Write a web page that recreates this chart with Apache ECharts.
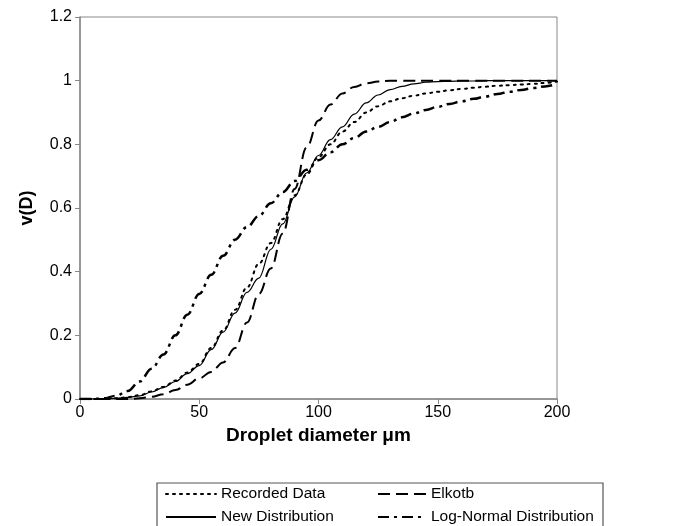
<!DOCTYPE html>
<html><head><meta charset="utf-8">
<script src="https://cdn.jsdelivr.net/npm/echarts@6/dist/echarts.min.js"></script>
<style>html,body{margin:0;padding:0;background:#fff}#c{width:680px;height:526px}</style>
</head><body><div id="c"></div>
<script>
const diameters = [0,5,10,15,20,25,30,35,40,45,50,55,60,65,70,75,80,85,90,95,100,105,110,115,120,125,130,135,140,145,150,155,160,165,170,175,180,185,190,195,200];
const recordedData = [0,0,0,0.002,0.006,0.012,0.024,0.038,0.058,0.083,0.11,0.16,0.215,0.28,0.35,0.425,0.49,0.565,0.64,0.705,0.76,0.8,0.84,0.87,0.9,0.92,0.935,0.945,0.953,0.96,0.965,0.97,0.974,0.978,0.981,0.984,0.986,0.988,0.99,0.993,0.997];
const newDistribution = [0,0,0,0.002,0.005,0.01,0.022,0.036,0.055,0.08,0.105,0.155,0.21,0.27,0.335,0.38,0.47,0.55,0.635,0.71,0.765,0.815,0.855,0.895,0.93,0.955,0.972,0.982,0.99,0.995,0.997,0.998,0.999,0.999,1,1,1,1,1,1,1];
const elkotb = [0,0,0,0,0,0.002,0.007,0.015,0.028,0.045,0.065,0.085,0.115,0.16,0.24,0.33,0.41,0.52,0.66,0.79,0.875,0.925,0.96,0.98,0.992,0.997,1,1,1,1,1,1,1,1,1,1,1,1,1,1,1];
const logNormal = [0,0,0.002,0.01,0.025,0.055,0.095,0.14,0.2,0.265,0.33,0.39,0.45,0.5,0.54,0.575,0.615,0.65,0.685,0.72,0.75,0.775,0.8,0.82,0.84,0.855,0.87,0.885,0.897,0.908,0.918,0.927,0.935,0.943,0.95,0.958,0.965,0.971,0.977,0.982,0.99];
const seriesNames = ['Recorded Data','New Distribution','Elkotb','Log-Normal Distribution'];
const xTicks = {min:0,max:200,interval:50};
const yTicks = {min:0,max:1.2,interval:0.2};

const pairs = arr => diameters.map((d,i)=>[d,arr[i]]);
const font = 'Liberation Sans, Arial, sans-serif';
const axisGray = '#888';

function mk(name, data, lineStyle){
  return {name, type:'line', data:pairs(data), symbol:'none', smooth:0.4, smoothMonotone:'x',
    lineStyle:Object.assign({color:'#000'}, lineStyle), itemStyle:{color:'#000'}, z:3};
}
const legendCommon = {orient:'vertical', top:486, padding:0, itemGap:7, itemHeight:14,
  itemStyle:{opacity:0, color:'transparent', borderWidth:0},
  textStyle:{fontFamily:font, fontSize:15.5, color:'#000'}};

const chart = echarts.init(document.getElementById('c'), null, {renderer:'canvas'});
chart.setOption({
  backgroundColor:'#fff',
  animation:false,
  grid:{left:80, right:123, top:17, bottom:127, show:true, borderColor:axisGray, borderWidth:1},
  xAxis:{type:'value', min:xTicks.min, max:xTicks.max, interval:xTicks.interval,
    name:'Droplet diameter \u03bcm', nameLocation:'middle', nameGap:17,
    nameTextStyle:{fontFamily:font, fontSize:19, fontWeight:'bold', color:'#000', verticalAlign:'top'},
    axisLine:{lineStyle:{color:axisGray, width:1.5}},
    axisTick:{show:true, length:5, lineStyle:{color:axisGray}},
    axisLabel:{fontFamily:font, fontSize:16, color:'#000', margin:6},
    splitLine:{show:false}},
  yAxis:{type:'value', min:yTicks.min, max:yTicks.max, interval:yTicks.interval,
    name:'v(D)', nameLocation:'middle', nameGap:44,
    nameTextStyle:{fontFamily:font, fontSize:18, fontWeight:'bold', color:'#000'},
    axisLine:{show:true, lineStyle:{color:axisGray, width:1.5}},
    axisTick:{show:true, length:5, lineStyle:{color:axisGray}},
    axisLabel:{fontFamily:font, fontSize:16, color:'#000', margin:8},
    splitLine:{show:false}},
  legend:[
    Object.assign({data:['Recorded Data','New Distribution'], left:165, itemWidth:50}, legendCommon),
    Object.assign({data:['Elkotb','Log-Normal Distribution'], left:377, itemWidth:48}, legendCommon)
  ],
  graphic:[{type:'rect', shape:{x:157, y:483, width:446, height:60}, style:{fill:'none', stroke:'#555', lineWidth:1.2}, silent:true}],
  series:[
    mk(seriesNames[0], recordedData, {type:[2,5], width:2, cap:'round'}),
    mk(seriesNames[1], newDistribution, {type:'solid', width:1.2}),
    mk(seriesNames[2], elkotb, {type:[12,6], width:2}),
    mk(seriesNames[3], logNormal, {type:[11,5,3,5], width:2.5})
  ]
});
</script></body></html>
